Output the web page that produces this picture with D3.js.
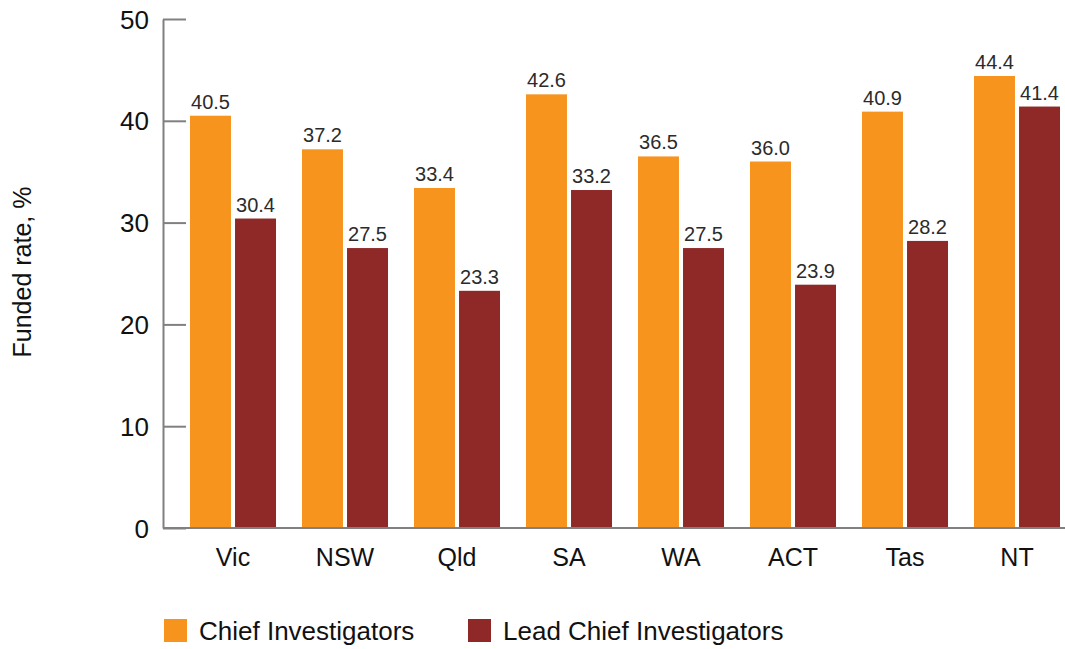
<!DOCTYPE html>
<html>
<head>
<meta charset="utf-8">
<title>Funded rate by state</title>
<script src="https://cdnjs.cloudflare.com/ajax/libs/d3/7.8.5/d3.min.js"></script>
<style>
    body { margin: 0; background: #fff; }
    text { font-family: "Liberation Sans", Arial, sans-serif; }
    .axis path, .axis line { stroke: #808080; stroke-width: 2; }
    .axis text { font-size: 26px; fill: #111; }
    .val { font-size: 20px; fill: #2b2b2b; text-anchor: middle; }
    .cat { font-size: 25px; fill: #111; text-anchor: middle; }
    .legend text { font-size: 26px; fill: #111; }
</style>
</head>
<body>
<svg id="chart" width="1065" height="649"></svg>
<script>
    var states = ["Vic", "NSW", "Qld", "SA", "WA", "ACT", "Tas", "NT"];
    var seriesNames = ["Chief Investigators", "Lead Chief Investigators"];
    var chiefValues = [40.5, 37.2, 33.4, 42.6, 36.5, 36.0, 40.9, 44.4];
    var leadValues = [30.4, 27.5, 23.3, 33.2, 27.5, 23.9, 28.2, 41.4];
    var yTicks = [0, 10, 20, 30, 40, 50];
    var colours = ["#f7941e", "#8e2927"];

    var svg = d3.select("#chart");

    var x0 = d3.scaleBand()
        .domain(states)
        .range([177, 1073])
        .paddingInner(0.232)
        .paddingOuter(0.116);

    var x1 = d3.scaleBand()
        .domain(seriesNames)
        .range([0, x0.bandwidth()])
        .paddingInner(0.09);

    var y = d3.scaleLinear()
        .domain([0, 50])
        .range([528, 19]);

    var colour = d3.scaleOrdinal().domain(seriesNames).range(colours);

    var rows = states.map(function(s, i) {
        return { state: s, values: [chiefValues[i], leadValues[i]] };
    });

    // y axis, ticks point inwards
    svg.append("g")
        .attr("class", "axis")
        .attr("transform", "translate(163,0)")
        .call(d3.axisLeft(y).tickValues(yTicks).tickSizeInner(-23).tickSizeOuter(0).tickPadding(14))
        .selectAll("text")
        .attr("dy", "0.35em");

    // baseline
    svg.append("line")
        .attr("x1", 163).attr("x2", 1065)
        .attr("y1", y(0)).attr("y2", y(0))
        .style("stroke", "#808080").style("stroke-width", 2);

    var group = svg.selectAll(".grp")
        .data(rows)
        .enter().append("g")
        .attr("class", "grp")
        .attr("transform", function(d) { return "translate(" + x0(d.state) + ",0)"; });

    var bars = group.selectAll("g")
        .data(function(d) {
            return seriesNames.map(function(k, j) { return { key: k, value: d.values[j] }; });
        })
        .enter().append("g");

    bars.append("rect")
        .attr("x", function(d) { return x1(d.key); })
        .attr("y", function(d) { return y(d.value); })
        .attr("width", x1.bandwidth())
        .attr("height", function(d) { return y(0) - y(d.value) - 1; })
        .style("fill", function(d) { return colour(d.key); });

    bars.append("text")
        .attr("class", "val")
        .attr("x", function(d) { return x1(d.key) + x1.bandwidth() / 2; })
        .attr("y", function(d) { return y(d.value) - 7; })
        .text(function(d) { return d.value.toFixed(1); });

    group.append("text")
        .attr("class", "cat")
        .attr("x", x0.bandwidth() / 2)
        .attr("y", 566)
        .text(function(d) { return d.state; });

    // y label
    svg.append("text")
        .attr("transform", "translate(31,272) rotate(-90)")
        .attr("text-anchor", "middle")
        .style("font-size", "25px")
        .style("fill", "#111")
        .text("Funded rate, %");

    // legend
    var legendX = [164, 468];
    var legend = svg.append("g")
        .attr("class", "legend")
        .selectAll("g")
        .data(seriesNames)
        .enter().append("g")
        .attr("transform", function(d, i) { return "translate(" + legendX[i] + ",619)"; });

    legend.append("rect")
        .attr("width", 23).attr("height", 23)
        .style("fill", function(d) { return colour(d); });

    legend.append("text")
        .attr("x", 35)
        .attr("y", 21)
        .text(function(d) { return d; });
</script>
</body>
</html>
